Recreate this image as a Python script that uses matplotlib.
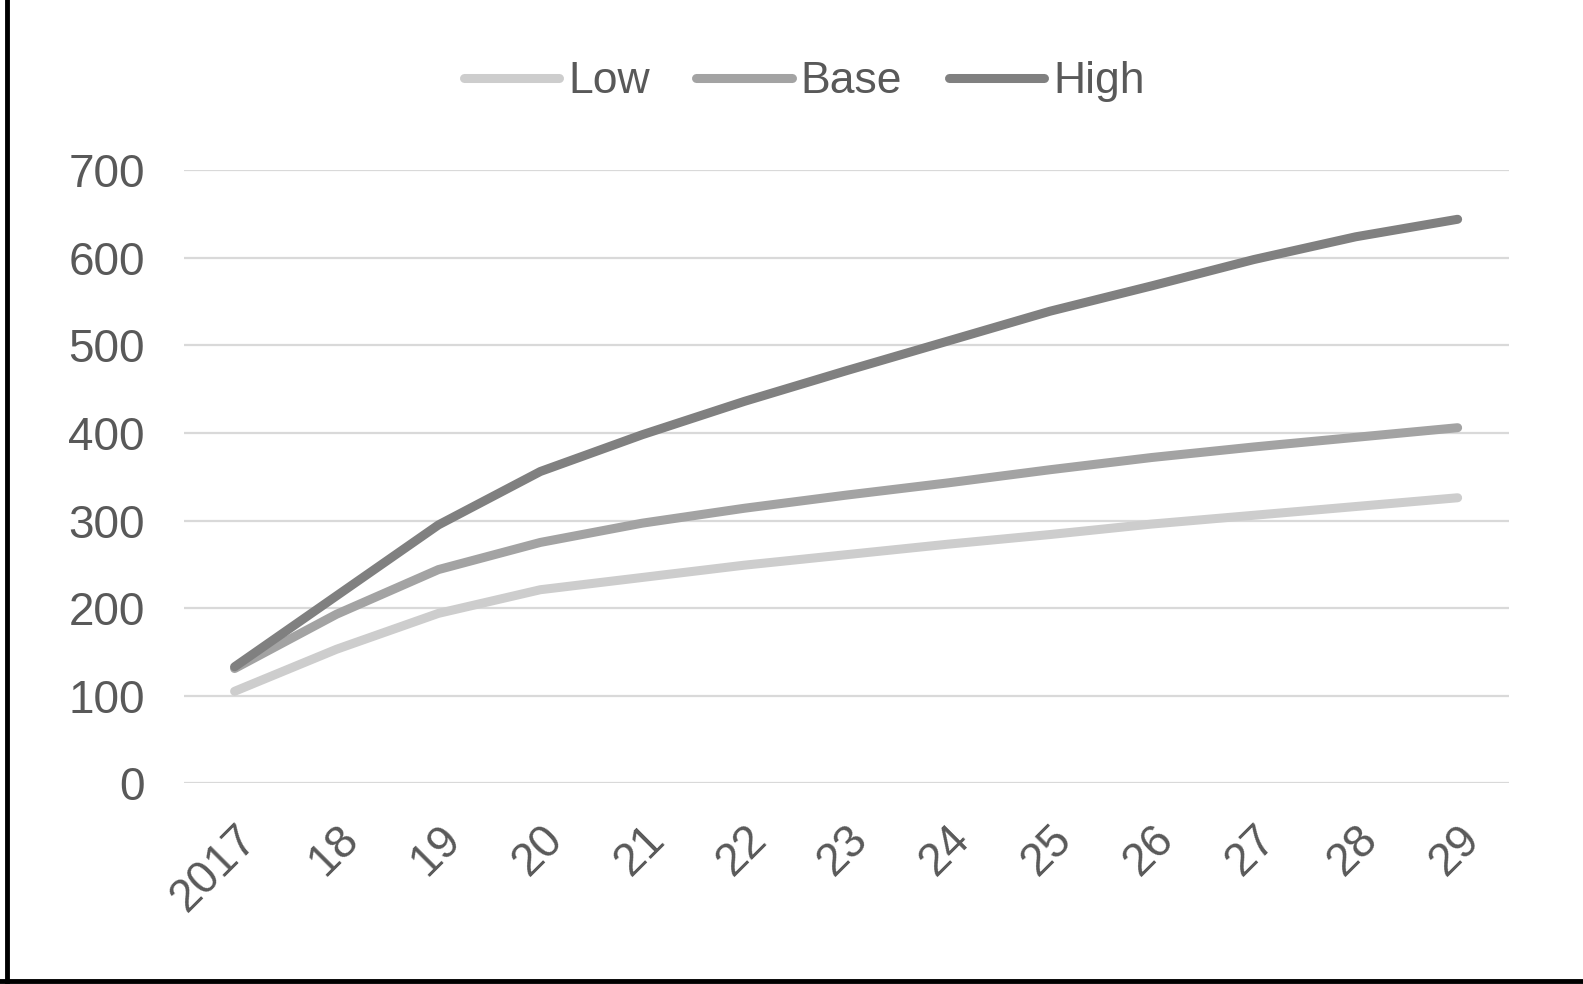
import matplotlib.pyplot as plt
from matplotlib.lines import Line2D

years = ["2017", "18", "19", "20", "21", "22", "23", "24", "25", "26", "27", "28", "29"]
low = [105, 153, 194, 221, 235, 249, 261, 273, 284, 296, 306, 316, 326]
base = [131, 193, 244, 275, 297, 314, 329, 343, 358, 372, 384, 395, 406]
high = [133, 214, 295, 356, 398, 436, 471, 505, 539, 568, 598, 624, 644]

series = [("Low", low, "#cdcdcd"), ("Base", base, "#a3a3a3"), ("High", high, "#808080")]


def main():
    plt.rcParams['font.family'] = ['Liberation Sans', 'DejaVu Sans']
    fig = plt.figure(figsize=(15.83, 9.84), dpi=100)
    ax = fig.add_axes([0.116, 0.204, 0.837, 0.623])

    x = list(range(len(years)))
    for name, vals, col in series:
        ax.plot(x, vals, color=col, linewidth=6.5, solid_capstyle='round', label=name)

    ax.set_ylim(0, 700)
    ax.set_xlim(-0.5, len(years) - 0.5)
    ax.set_yticks(range(0, 701, 100))
    ax.set_xticks(x)
    ax.set_xticklabels(years, rotation=45, ha='right', rotation_mode='anchor')
    ax.tick_params(axis='both', length=0, labelsize=33, colors='#595959')
    ax.tick_params(axis='y', pad=28)
    ax.tick_params(axis='x', pad=24)
    ax.yaxis.grid(True, color='#d9d9d9', linewidth=1.6)
    ax.set_axisbelow(True)
    for s in ax.spines.values():
        s.set_visible(False)

    handles = [Line2D([0], [0], color=c, linewidth=6.5, solid_capstyle='round') for _, _, c in series]
    fig.legend(handles, [n for n, _, _ in series], loc='center', bbox_to_anchor=(0.508, 0.917),
               ncol=3, frameon=False, fontsize=32, handlelength=2.15, handletextpad=0.2,
               columnspacing=1.05, labelcolor='#595959')

    # black frame on left and bottom edges
    fig.add_artist(Line2D([0.0045, 0.0045], [0, 1], color='black', linewidth=3.5, transform=fig.transFigure))
    fig.add_artist(Line2D([0, 1], [0.0035, 0.0035], color='black', linewidth=3.5, transform=fig.transFigure))

    fig.savefig("out.png", dpi=100)


if __name__ == "__main__":
    main()
